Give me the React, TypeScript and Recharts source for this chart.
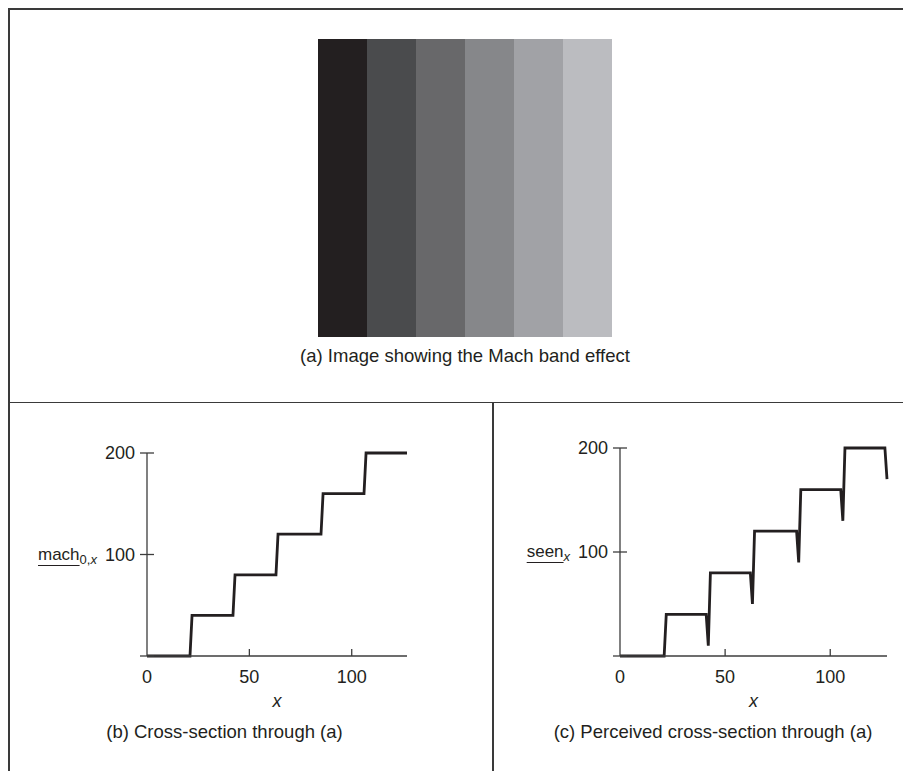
import React from 'react'
import { BarChart, Bar, Cell, LineChart, Line, XAxis, YAxis } from 'recharts'

// grey levels of the six bands in (a)
const bandLevels = [0, 40, 80, 120, 160, 200]
const bandColors = ['#231f20', '#4a4b4d', '#68686a', '#86878a', '#a1a2a6', '#bbbcc0']
const bandHeight = [1, 1, 1, 1, 1, 1]

// (b) cross-section: corner points of the staircase
const machX = [0, 21, 22, 42, 43, 63, 64, 85, 86, 106, 107, 127]
const machY = [0, 0, 40, 40, 80, 80, 120, 120, 160, 160, 200, 200]

// (c) perceived cross-section: same staircase with the dark dip before each edge
const seenX = [0, 21, 22, 41, 42, 43, 62, 63, 64, 84, 85, 86, 105, 106, 107, 126, 127]
const seenY = [0, 0, 40, 40, 10, 80, 80, 50, 120, 120, 90, 160, 160, 130, 200, 200, 170]

const xTicks = [0, 50, 100]
const yTicks = [0, 100, 200]

const INK = '#231f20'
const AXIS = '#3d3d3d'
const FRAME = '#3a3a3a'
const FONT = '"Liberation Sans", Arial, Helvetica, sans-serif'
const Y_GAP = 12
const X_GAP = 14

const bandData = bandLevels.map((level, i) => ({ level, h: bandHeight[i] }))
const machData = machX.map((x, i) => ({ x, y: machY[i] }))
const seenData = seenX.map((x, i) => ({ x, y: seenY[i] }))

function YTick({ x, y, payload }: any) {
  return (
    <g>
      <line x1={x + Y_GAP - 7} x2={x + Y_GAP + 7} y1={y} y2={y} stroke={AXIS} strokeWidth={1.3} />
      {payload.value !== 0 && (
        <text x={x} y={y} dy="0.36em" textAnchor="end" fill={INK} fontSize={18} fontFamily={FONT}>
          {payload.value}
        </text>
      )}
    </g>
  )
}

function XTick({ x, y, payload }: any) {
  return (
    <g>
      {payload.value !== 0 && (
        <line x1={x} x2={x} y1={y - X_GAP} y2={y - X_GAP - 7} stroke={AXIS} strokeWidth={1.3} />
      )}
      <text x={x} y={y} dy="0.71em" textAnchor="middle" fill={INK} fontSize={18} fontFamily={FONT}>
        {payload.value}
      </text>
    </g>
  )
}

function StepPlot({ data, width, margin }: { data: { x: number; y: number }[]; width: number; margin: any }) {
  return (
    <LineChart width={width} height={300} data={data} margin={margin}>
      <XAxis
        dataKey="x"
        type="number"
        domain={[0, 127]}
        ticks={xTicks}
        interval={0}
        height={40}
        tickSize={0}
        tickMargin={X_GAP}
        tick={<XTick />}
        axisLine={{ stroke: AXIS, strokeWidth: 1.3 }}
        label={{
          value: 'x',
          position: 'bottom',
          offset: -2,
          style: { fontStyle: 'italic', fontSize: 18, fontFamily: FONT, fill: INK },
        }}
      />
      <YAxis
        type="number"
        domain={[0, 200]}
        ticks={yTicks}
        interval={0}
        width={125}
        tickSize={0}
        tickMargin={Y_GAP}
        tick={<YTick />}
        axisLine={{ stroke: AXIS, strokeWidth: 1.3 }}
      />
      <Line
        type="linear"
        dataKey="y"
        stroke={INK}
        strokeWidth={2.8}
        dot={false}
        isAnimationActive={false}
      />
    </LineChart>
  )
}

const abs = (left: number, top: number): React.CSSProperties => ({ position: 'absolute', left, top })

const caption: React.CSSProperties = {
  position: 'absolute',
  fontSize: 18.5,
  lineHeight: 1,
  fontFamily: FONT,
  color: INK,
  whiteSpace: 'nowrap',
  transform: 'translateX(-50%)',
}

const yLabel: React.CSSProperties = {
  position: 'absolute',
  fontSize: 17,
  lineHeight: 1,
  fontFamily: FONT,
  color: INK,
  whiteSpace: 'nowrap',
}

const under: React.CSSProperties = { textDecoration: 'underline', textUnderlineOffset: 5, textDecorationThickness: 1 }

export default function App() {
  return (
    <div style={{ position: 'relative', width: 903, height: 763, background: '#fff' }}>
      {/* frame */}
      <div style={{ ...abs(0, 0), width: 903, height: 1.5, background: FRAME }} />
      <div style={{ ...abs(0, 0), width: 1.5, height: 763, background: FRAME }} />
      <div style={{ ...abs(0, 393.5), width: 903, height: 1.5, background: FRAME }} />
      <div style={{ ...abs(484, 393.5), width: 1.5, height: 370, background: FRAME }} />

      {/* (a) the banded image */}
      <div style={abs(310, 31)}>
        <BarChart width={294} height={298} data={bandData} margin={{ top: 0, right: 0, bottom: 0, left: 0 }} barCategoryGap={0}>
          <XAxis dataKey="level" hide />
          <YAxis hide domain={[0, 1]} />
          <Bar dataKey="h" isAnimationActive={false}>
            {bandData.map((d, i) => (
              <Cell key={d.level} fill={bandColors[i]} />
            ))}
          </Bar>
        </BarChart>
      </div>
      <div style={{ ...caption, left: 457, top: 339 }}>(a) Image showing the Mach band effect</div>

      {/* (b) */}
      <div style={abs(12, 422)}>
        <StepPlot data={machData} width={440} margin={{ top: 23, right: 53, bottom: 34, left: 2 }} />
      </div>
      <div style={{ ...yLabel, left: 30, top: 537.6 }}>
        <span style={under}>mach</span>
        <sub style={{ fontSize: 13 }}>
          0,<i>x</i>
        </sub>
      </div>
      <div style={{ ...caption, left: 216.5, top: 715 }}>(b) Cross-section through (a)</div>

      {/* (c) */}
      <div style={abs(484, 417)}>
        <StepPlot data={seenData} width={411} margin={{ top: 23, right: 16, bottom: 29, left: 3 }} />
      </div>
      <div style={{ ...yLabel, left: 518.7, top: 535 }}>
        <span style={under}>seen</span>
        <sub style={{ fontSize: 13 }}>
          <i>x</i>
        </sub>
      </div>
      <div style={{ ...caption, left: 705, top: 715 }}>(c) Perceived cross-section through (a)</div>
    </div>
  )
}
